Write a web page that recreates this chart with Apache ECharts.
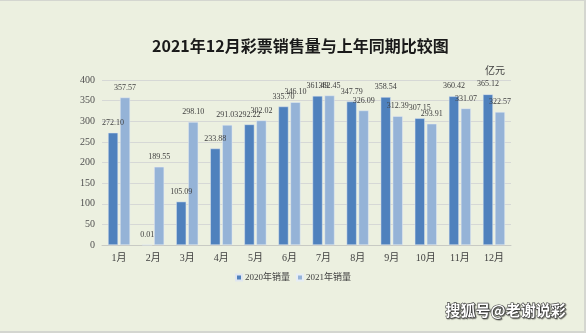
<!DOCTYPE html>
<html><head><meta charset="utf-8">
<script src="https://cdn.jsdelivr.net/npm/echarts@6/dist/echarts.min.js"></script>
<style>
html,body{margin:0;padding:0;background:#ECF0E0;}
#wrap{position:absolute;left:0;top:0;width:586px;height:333px;box-sizing:border-box;border-top:1px solid #d4d6d0;border-right:2px solid #d4d6d0;border-bottom:2px solid #d4d6d0;}
#c{position:absolute;left:0;top:0;width:586px;height:333px;}
</style></head>
<body><div id="c"></div><div id="wrap"></div>
<script>
const categories = ['1月','2月','3月','4月','5月','6月','7月','8月','9月','10月','11月','12月'];
const sales2020 = [272.10, 0.01, 105.09, 233.88, 292.22, 335.70, 361.49, 347.79, 358.54, 307.15, 360.42, 365.12];
const sales2021 = [357.57, 189.55, 298.10, 291.03, 302.02, 346.10, 362.45, 326.09, 312.39, 293.91, 331.07, 322.57];
const seriesNames = ['2020年销量','2021年销量'];
const titleText = '2021年12月彩票销售量与上年同期比较图';
const unitText = '亿元';
const watermark = '搜狐号@老谢说彩';

const chart = echarts.init(document.getElementById('c'), null, {renderer:'canvas'});
const serif = '"Liberation Serif","DejaVu Serif","Noto Sans CJK SC",serif';
const lbl = {show:true, position:'top', distance:6, fontFamily:serif, fontSize:8, color:'#404040', formatter: p => p.value.toFixed(2)};
chart.setOption({
  backgroundColor:'#ECF0E0',
  animation:false,
  title:{text:titleText, left:147, top:33, textStyle:{fontFamily:'"Noto Sans CJK SC",sans-serif', fontSize:16, fontWeight:'bold', color:'#1a1a1a'}},
  grid:{left:102, right:75, top:80, bottom:88, containLabel:false},
  legend:{data:seriesNames, bottom:46, left:'center', itemWidth:6, itemHeight:6, itemGap:6, icon:'rect',
    textStyle:{fontFamily:serif, fontSize:9, color:'#404040', padding:[0,0,0,-2]}},
  xAxis:{type:'category', data:categories, axisTick:{show:false}, axisLine:{lineStyle:{color:'#c8cac4', width:1}},
    axisLabel:{fontFamily:serif, fontSize:10, color:'#404040', margin:8}},
  yAxis:{type:'value', min:0, max:400, interval:50, axisLine:{show:false}, axisTick:{show:false},
    splitLine:{lineStyle:{color:'#d6d8d6', width:1}},
    axisLabel:{fontFamily:serif, fontSize:10, color:'#505050', margin:7}},
  series:[
    {name:seriesNames[0], type:'bar', data:sales2020, barWidth:10, barGap:'20%', itemStyle:{color:'#4F81BD', borderColor:'#dfe6f0', borderWidth:0.5}, label:lbl},
    {name:seriesNames[1], type:'bar', data:sales2021, barWidth:10, itemStyle:{color:'#95B3D7', borderColor:'#e6edf5', borderWidth:0.5}, label:lbl}
  ],
  graphic:[
    {type:'text', left:485, top:65, style:{text:unitText, fontFamily:'"Noto Sans CJK SC",sans-serif', fontSize:10, fill:'#404040'}},
    {type:'text', left:445, top:302, style:{text:watermark, fontFamily:'"Noto Sans CJK SC",sans-serif', fontSize:15, fontWeight:'bold', fill:'#ffffff', stroke:'#444444', lineWidth:1.2, textShadowColor:'rgba(0,0,0,0.4)', textShadowBlur:1, textShadowOffsetX:1, textShadowOffsetY:1}}
  ]
});
</script></body></html>
